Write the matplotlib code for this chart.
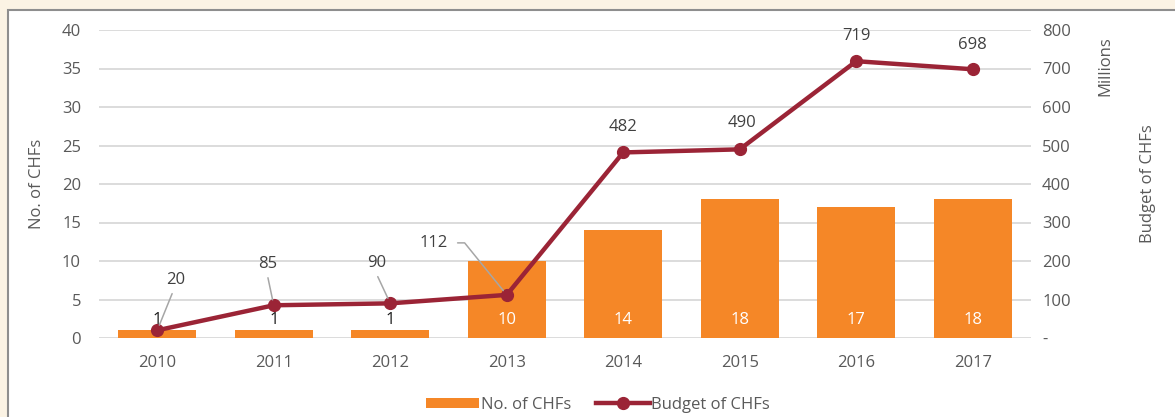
import matplotlib
matplotlib.use("Agg")
import matplotlib.pyplot as plt
from matplotlib.patches import Rectangle
import numpy as np

plt.rcParams['font.family'] = ['Open Sans', 'DejaVu Sans']

years = ['2010', '2011', '2012', '2013', '2014', '2015', '2016', '2017']
chf_count = [1, 1, 1, 10, 14, 18, 17, 18]
chf_budget = [20, 85, 90, 112, 482, 490, 719, 698]

# label offsets (pixels) for the budget labels, and which ones get a leader line
budget_offsets = [(18, 50), (-6, 41), (-14, 40), (-73, 52), (0, 25), (2, 26), (0, 25), (0, 24)]
budget_leader = [True, True, True, True, False, False, False, False]

orange = '#F58727'
red = '#9B2436'
grey_txt = '#595959'
grid_c = '#D9D9D9'
fs = 12

fig = plt.figure(figsize=(11.75, 4.17), dpi=100, facecolor='#FBF3E4')
fig.patches.append(Rectangle((8 / 1175, -0.1), 1.2, 1 - 10 / 417 + 0.1, transform=fig.transFigure,
                             facecolor='white', edgecolor='#8E8E8E', lw=1.5, zorder=-10))

ax = fig.add_axes([99 / 1175, 1 - 338 / 417, 932 / 1175, 308 / 417])
ax.set_facecolor('none')
x = np.arange(len(years))

ax.set_axisbelow(True)
ax.yaxis.grid(True, color=grid_c, lw=1.3)
bars = ax.bar(x, chf_count, width=0.67, color=orange, label='No. of CHFs', zorder=2)
ax.set_ylim(0, 40)
ax.set_xlim(-0.5, 7.5)
ax.set_yticks(range(0, 41, 5))
ax.set_xticks(x)
ax.set_xticklabels(years)
ax.tick_params(axis='both', length=0, labelsize=fs, labelcolor=grey_txt)
ax.tick_params(axis='y', pad=13)
ax.tick_params(axis='x', pad=12)
for s in ax.spines.values():
    s.set_visible(False)
ax.set_ylabel('No. of CHFs', fontsize=fs, color=grey_txt, labelpad=12)

for xi, v in zip(x, chf_count):
    col = 'white' if v >= 5 else '#1a1a1a'
    ax.text(xi, 2.4, str(v), ha='center', va='center', fontsize=fs, color=col, zorder=3)

ax2 = ax.twinx()
ax2.set_ylim(0, 800)
ax2.set_yticks(range(0, 801, 100))
ax2.set_yticklabels(['-'] + [str(v) for v in range(100, 801, 100)])
ax2.tick_params(axis='y', length=0, labelsize=fs, labelcolor=grey_txt, pad=8)
for s in ax2.spines.values():
    s.set_visible(False)
ax2.plot(x, chf_budget, color=red, lw=3.2, marker='o', markersize=8.5, label='Budget of CHFs', zorder=5)

for xi, v, off, lead in zip(x, chf_budget, budget_offsets, budget_leader):
    props = None
    if lead:
        if v == 112:
            props = dict(arrowstyle='-', color='#A6A6A6', lw=1.1, shrinkA=5, shrinkB=4,
                         relpos=(1.0, 0.5), connectionstyle='angle,angleA=0,angleB=129,rad=0')
        else:
            props = dict(arrowstyle='-', color='#A6A6A6', lw=1.1, shrinkA=2, shrinkB=4,
                         relpos=(0.45, 0.0))
    ax2.annotate(str(v), xy=(xi, v), xytext=off, textcoords='offset pixels',
                 ha='center', va='center', fontsize=fs, color='#404040',
                 arrowprops=props, zorder=6)

fig.text(1105 / 1175, 1 - 66 / 417, 'Millions', rotation=90, ha='center', va='center',
         fontsize=fs, color=grey_txt)
fig.text(1148 / 1175, 1 - 184 / 417, 'Budget of CHFs', rotation=90, ha='center', va='center',
         fontsize=fs, color=grey_txt)

h1, l1 = ax.get_legend_handles_labels()
h2, l2 = ax2.get_legend_handles_labels()
fig.legend(h1 + h2, l1 + l2, loc='center', bbox_to_anchor=(598 / 1175, 1 - 405 / 417), ncol=2,
           frameon=False, fontsize=fs, handlelength=3.2, handleheight=0.6, columnspacing=1.5,
           handletextpad=0.1, labelcolor=grey_txt)

fig.savefig('out.png', dpi=100, facecolor=fig.get_facecolor())
